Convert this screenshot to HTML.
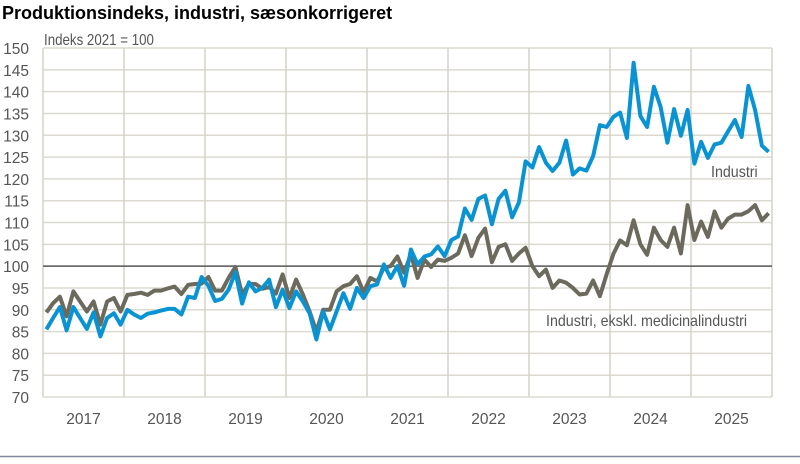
<!DOCTYPE html>
<html><head><meta charset="utf-8"><style>
body{margin:0;background:#fff;width:800px;height:459px;overflow:hidden}
text{font-family:"Liberation Sans",Arial,sans-serif}
</style></head><body>
<svg id="s" width="800" height="459" xmlns="http://www.w3.org/2000/svg">
<text x="2" y="19" font-size="18" font-weight="bold" fill="#000">Produktionsindeks, industri, sæsonkorrigeret</text>
<text x="44" y="45" font-size="15.5" fill="#555" transform="translate(44 0) scale(0.86,1) translate(-44 0)">Indeks 2021 = 100</text>
<g id="grid"></g>
<g id="lab" font-size="15.5" fill="#555"></g>
<line x1="0" y1="456.5" x2="800" y2="456.5" stroke="#7d8a99" stroke-width="1.5"/>
<polyline id="g" fill="none" stroke="#6b6a5c" stroke-width="4" stroke-linejoin="round"/>
<polyline id="b" fill="none" stroke="#0a93d3" stroke-width="4" stroke-linejoin="round"/>
<text x="711" y="177" font-size="15.5" fill="#555" transform="translate(711 0) scale(0.92,1) translate(-711 0)">Industri</text>
<text x="546" y="326" font-size="15.5" fill="#555" transform="translate(546 0) scale(0.92,1) translate(-546 0)">Industri, ekskl. medicinalindustri</text>
</svg>
<script>
const B=[85.5,88.1,90.6,85.3,90.6,88.1,85.6,89.4,83.9,88.1,89.2,86.6,90,88.9,88.1,89.1,89.4,89.8,90.2,90.2,88.9,93,92.7,97.5,95.5,92,92.5,94.6,98.6,91.4,96.3,94.2,95,96.9,90.6,94.6,90.4,94.2,91.9,89.2,83.2,89.6,85.5,89.6,93.8,90.2,95,92.7,95.4,95.8,100.4,97.3,100,95.5,103.8,100.4,102.2,102.7,104.5,102.3,106,106.8,113.2,110.6,115.4,116.2,109.6,115.4,117.3,111.2,114.6,124,122.6,127.3,123.7,121.8,123.7,128.8,121,122.4,121.9,125.2,132.3,131.9,134.2,135.2,129.4,146.6,134.4,131.9,141.1,136.5,128.3,136,129.9,135.8,123.5,128.5,124.8,127.9,128.3,130.9,133.5,129.6,141.3,135.8,127.6,126.2];
const G=[89.4,91.5,93,88.5,94.2,91.9,89.6,91.9,86.6,91.9,92.7,89.6,93.4,93.6,93.9,93.4,94.4,94.4,94.9,95.3,93.6,95.7,95.9,96,97.5,94.4,94.4,97.3,99.8,93.5,95.9,95.9,94.8,95.2,93.7,98.1,92.7,96.9,93.5,89.6,85,90,90,94.2,95.4,95.9,97.7,94,97.3,96.5,99.6,100,102.2,98.5,102.7,97.3,101.5,99.8,101.5,101.2,101.9,102.9,107.1,102.3,106.5,108.6,100.9,104.4,105,101.2,102.9,104.2,100,97.7,99.2,95,96.7,96.2,95,93.5,93.7,96.7,93.1,98.1,102.8,105.9,104.8,110.5,105,102.6,108.8,106,104.4,108.8,102.9,114,106,110.2,106.7,112.5,108.8,110.9,111.8,111.8,112.6,114,110.5,112.1];
const X=i=>43+(i+0.5)*6.75, Y=v=>397-(v-70)*4.3625;
const pts=a=>a.map((v,i)=>X(i).toFixed(1)+","+Y(v).toFixed(1)).join(" ");
document.getElementById("b").setAttribute("points",pts(B));
document.getElementById("g").setAttribute("points",pts(G));
let g="",l="";
for(let v=70;v<=150;v+=5){const y=Y(v);
 if(v!==100&&v!==70)g+=`<line x1="43" x2="772" y1="${y}" y2="${y}" stroke="#dcdad0" stroke-width="1.5"/>`;
 l+=`<text x="29" y="${y+6}" text-anchor="end">${v}</text>`;}
for(let k=0;k<=9;k++){const x=43+k*81;g+=`<line x1="${x}" x2="${x}" y1="48" y2="397" stroke="#d4d2c8" stroke-width="1.5"/>`;
 if(k<9)l+=`<text x="${x+40.5}" y="424" text-anchor="middle">${2017+k}</text>`;}
g+=`<line x1="43" x2="772" y1="397" y2="397" stroke="#dcdad0" stroke-width="1.5"/>`;
g+=`<line x1="43" x2="772" y1="${Y(100)}" y2="${Y(100)}" stroke="#555" stroke-width="1.5"/>`;
document.getElementById("grid").innerHTML=g;document.getElementById("lab").innerHTML=l;
</script>
</body></html>
